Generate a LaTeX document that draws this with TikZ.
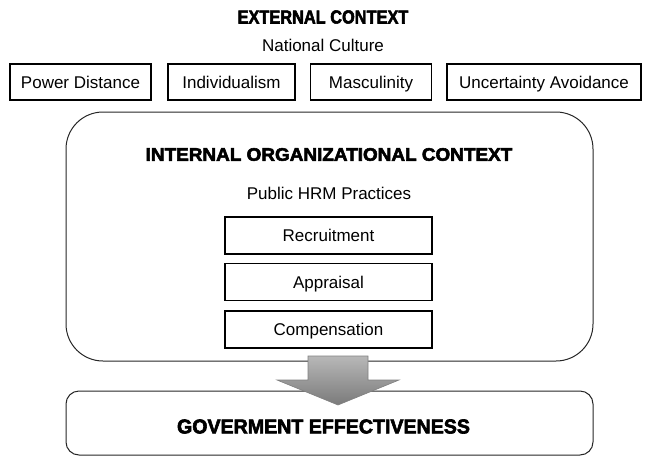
\documentclass[tikz,border=0pt]{standalone}
\usepackage{fontspec}
\setmainfont{Liberation Sans}
\newfontfamily\headfont[FakeBold=3]{Liberation Sans Bold}
\newcommand\heading[3]{\scalebox{#2}[1]{\headfont\fontsize{#1}{#1}\selectfont #3}}
\begin{document}
\begin{tikzpicture}
  [x=1pt,y=-1pt,every node/.style={font=\fontsize{17}{20}\selectfont}]
  \tikzstyle{factor} = [draw,line width=1.2pt,minimum height=36pt,inner sep=0pt,text height=12.2pt,text depth=0pt]
  \tikzstyle{practice} = [factor,minimum width=207pt,minimum height=37pt]
  \tikzstyle{frame} = [draw=black!85,line width=1pt]
  \tikzstyle{arrowshape} = [draw=black!50,line width=.6pt,top color=black!28,bottom color=black!52]
  \useasboundingbox (0,0) rectangle (646,456);

  % outer frames
  \node (org) at (329.5,236.5) [frame,rounded corners=37pt,minimum width=527pt,minimum height=249pt] {};
  \node (out) at (329.5,423) [frame,rounded corners=13pt,minimum width=527pt,minimum height=64pt] {};

  % national culture
  \node (ext) at (323,17) {\heading{18.8}{0.87}{EXTERNAL CONTEXT}};
  \node (nc) at (323,45.5) {National Culture};
  \foreach \name/\x/\w/\label in {pd/80.5/141/Power Distance,ind/231.5/127/Individualism,
      mas/371/121/Masculinity,ua/544/194/Uncertainty Avoidance}
    \node (\name) at (\x,82) [factor,minimum width=\w pt] {\label};

  % hrm practices
  \node (int) at (329,154.5) {\heading{18.2}{1.04}{INTERNAL ORGANIZATIONAL CONTEXT}};
  \node (hrm) at (329,193) {Public HRM Practices};
  \foreach \name/\y/\label in {rec/235.5/Recruitment,app/282/Appraisal,comp/329.5/Compensation}
    \node (\name) at (328.5,\y) [practice] {\label};

  \node (gov) at (323.5,426.5) {\heading{20}{0.98}{GOVERMENT EFFECTIVENESS}};

  % big arrow
  \coordinate (a1) at (308,356);
  \coordinate (a2) at (368,356);
  \coordinate (a3) at (368,380);
  \coordinate (a4) at (399,380);
  \coordinate (tip) at (338,405);
  \coordinate (a6) at (277,380);
  \coordinate (a7) at (308,380);
  \draw[arrowshape] (a1) -- (a2) -- (a3) -- (a4) -- (tip) -- (a6) -- (a7) -- cycle;
\end{tikzpicture}
\end{document}
